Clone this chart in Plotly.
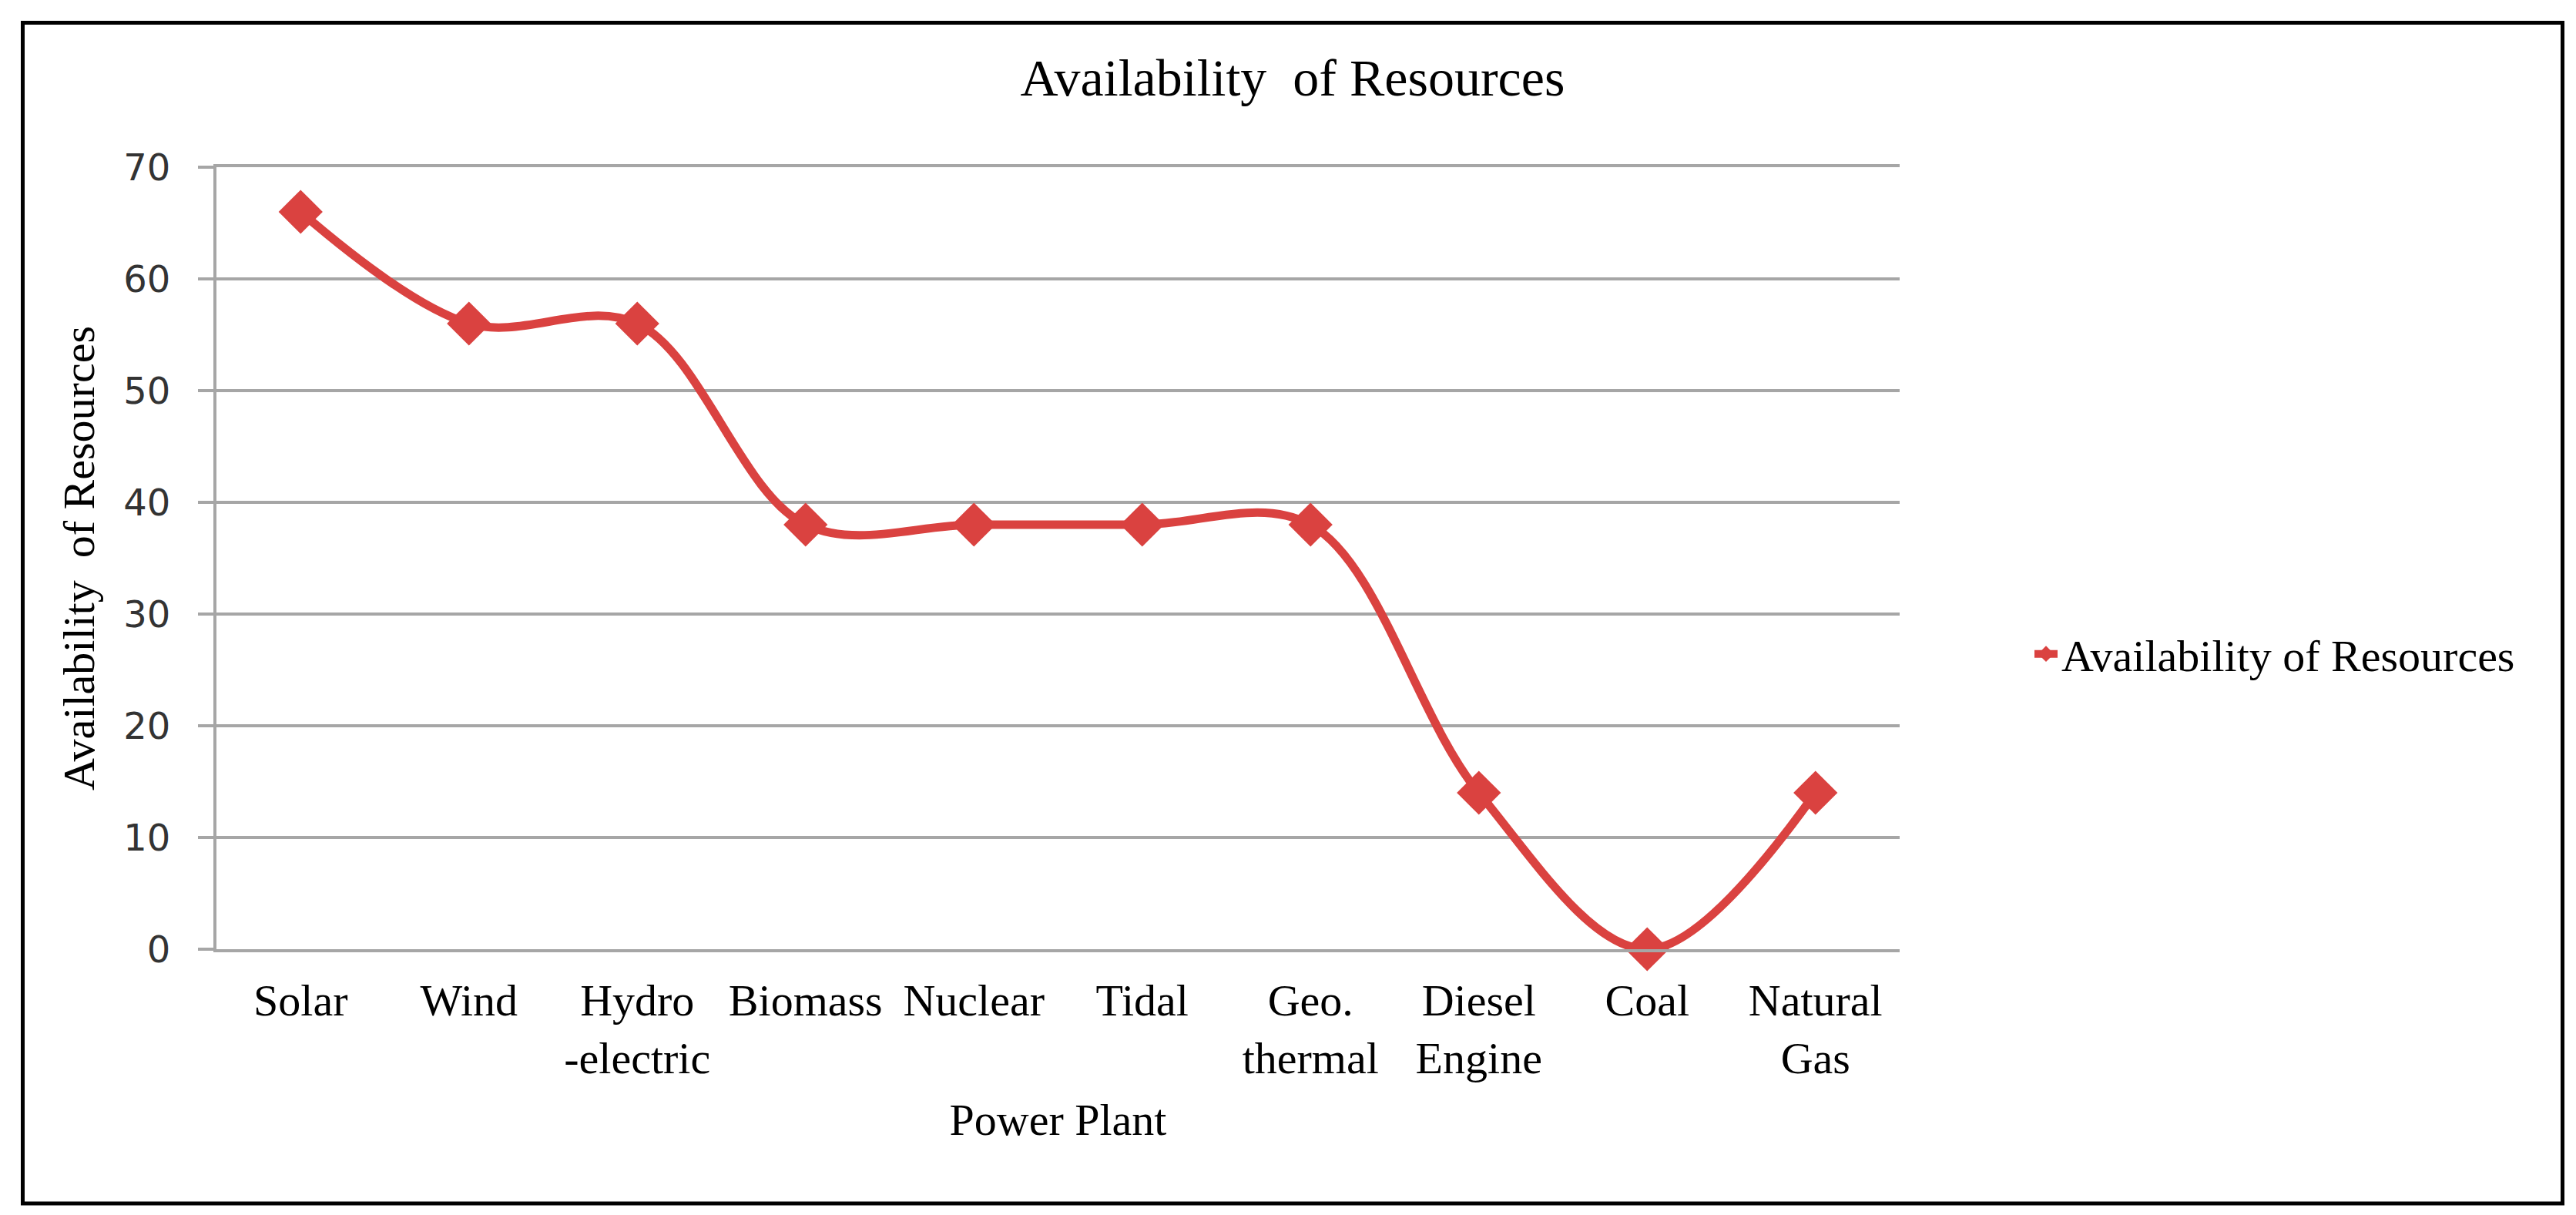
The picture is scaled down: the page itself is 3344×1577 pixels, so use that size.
import plotly.graph_objects as go

# ---- data ----
categories = ["Solar", "Wind", "Hydro<br>-electric", "Biomass", "Nuclear", "Tidal",
              "Geo.<br>thermal", "Diesel<br>Engine", "Coal", "Natural<br>Gas"]
availability = [66, 56, 56, 38, 38, 38, 38, 14, 0, 14]
y_ticks = [0, 10, 20, 30, 40, 50, 60, 70]

series_name = "Availability of Resources"
title_text = "Availability&nbsp;&nbsp;of Resources"
x_title = "Power Plant"
y_title = "Availability&nbsp; of Resources"

# ---- layout geometry (pixels) ----
W, H = 3344, 1577
PL, PR, PT, PB = 273, 2458, 209, 1224
RED = "#DA4240"
GRID = "#A6A6A6"
SERIF = "Liberation Serif, Times New Roman, serif"

def px_x(p):
    return (p - PL) / (PR - PL)

def px_y(p):
    return (PB - p) / (PB - PT)

fig = go.Figure()
fig.add_trace(go.Scatter(
    x=list(range(len(categories))),
    y=availability,
    mode="lines+markers",
    name=series_name,
    line=dict(color=RED, width=11, shape="spline", smoothing=1.0),
    marker=dict(symbol="diamond", size=44, color=RED),
    cliponaxis=False,
))

fig.update_layout(
    width=W, height=H,
    margin=dict(l=PL, r=W - PR, t=PT, b=H - PB),
    paper_bgcolor="white",
    plot_bgcolor="white",
    title=dict(text=title_text, x=1670 / W, xref="container", xanchor="center",
               y=1 - 92 / H, yref="container", yanchor="middle",
               font=dict(family=SERIF, size=68, color="black")),
    showlegend=True,
    legend=dict(x=px_x(2628), xanchor="left", y=px_y(841), yanchor="middle",
                font=dict(family=SERIF, size=58, color="black"),
                bgcolor="rgba(0,0,0,0)"),
    xaxis=dict(
        range=[-0.5, len(categories) - 0.5],
        tickmode="array", tickvals=list(range(len(categories))), ticktext=categories,
        showgrid=False, zeroline=False,
        showline=True, linecolor=GRID, linewidth=4, mirror=True,
        ticks="", ticklabelstandoff=12,
        tickfont=dict(family=SERIF, size=58, color="black"),
        title=dict(text=x_title, standoff=28,
                   font=dict(family=SERIF, size=58, color="black")),
    ),
    yaxis=dict(
        range=[0, 70],
        tickmode="array", tickvals=y_ticks,
        showgrid=True, gridcolor=GRID, gridwidth=4,
        zeroline=False,
        showline=True, linecolor=GRID, linewidth=4,
        ticks="outside", ticklen=20, tickwidth=4, tickcolor=GRID,
        ticklabelstandoff=26,
        tickfont=dict(family="DejaVu Sans, Verdana, sans-serif", size=48, color="#333333"),
        title=dict(text=y_title, standoff=20,
                   font=dict(family=SERIF, size=58, color="black")),
    ),
)

# outer border frame
fig.add_shape(type="rect", xref="paper", yref="paper",
              x0=px_x(21.5), x1=px_x(3318.5), y0=px_y(1554), y1=px_y(21.5),
              line=dict(color="black", width=5), fillcolor="rgba(0,0,0,0)", layer="below")

fig.write_html("out.html")
